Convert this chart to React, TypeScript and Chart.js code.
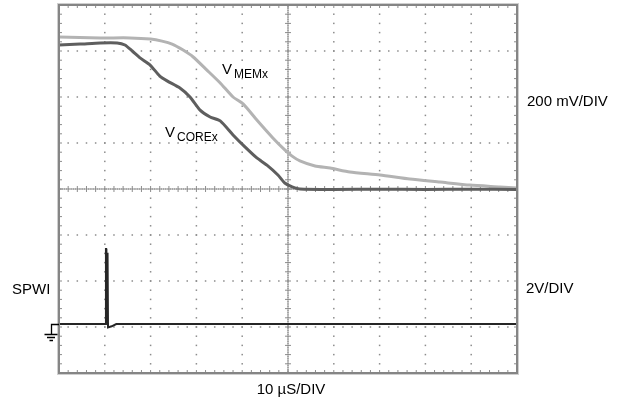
import React, { useEffect, useRef } from "react";
import { Chart, registerables } from "chart.js";

Chart.register(...registerables);

// Time axis: 10 µs/div, 10 divisions
const TIME_MIN = 0;
const TIME_MAX = 100;

// VCOREx (mV relative to centre line, 200 mV/div)
const coreTime = [0, 4.6, 9, 12.7, 14.4, 16, 17.7, 19.9, 22, 23.6, 26.4, 28.6, 30.8, 33, 35.2, 38, 40.6, 43.2, 45.4, 47.8, 49.3, 50.9, 52.6, 60, 70, 80, 90, 100];
const coreMv = [626, 630, 635, 635, 626, 600, 570, 539, 491, 470, 439, 400, 343, 313, 296, 235, 183, 135, 104, 61, 26, 9, 0, -2, -1, -2, -1, -2];

// VMEMx (mV relative to centre line, 200 mV/div)
const memTime = [0, 9, 15.5, 20, 22.5, 24.7, 27.1, 29.3, 32.3, 35.2, 38, 40.2, 43.2, 46.7, 49.3, 50.9, 52.6, 55.9, 59.2, 63.5, 70.1, 76.6, 83.2, 89.7, 96.3, 100];
const memMv = [661, 657, 657, 652, 643, 630, 604, 574, 517, 461, 400, 370, 300, 222, 170, 143, 122, 100, 91, 74, 61, 43, 30, 17, 9, 4];

// SPWI (V, 2 V/div)
const spwiTime = [0, 10.2, 10.25, 10.3, 10.35, 10.6, 10.65, 10.7, 11.5, 12.5, 100];
const spwiV = [0, 0, 3.26, 3.26, 0.1, 3.1, 3.1, -0.15, -0.1, 0, 0];

const MV_MIN = -800;
const MV_MAX = 800;
const V_MIN = -2.13;
const V_MAX = 13.87;

const FONT = '"Liberation Sans", Arial, sans-serif';

const graticule = {
  id: "graticule",
  beforeDatasetsDraw(chart: any) {
    const { ctx, chartArea } = chart;
    const { left, top, right, bottom } = chartArea;
    const w = right - left;
    const h = bottom - top;
    const dx = w / 10;
    const dy = h / 8;
    ctx.save();
    ctx.fillStyle = "#8c8c8c";
    const dot = (x: number, y: number) => ctx.fillRect(x - 0.75, y - 0.75, 1.5, 1.5);
    for (let k = 1; k < 10; k++) {
      if (k === 5) continue;
      const x = left + k * dx;
      for (let j = 1; j < 40; j++) dot(x, top + (j * dy) / 5);
    }
    for (let k = 1; k < 8; k++) {
      if (k === 4) continue;
      const y = top + k * dy;
      for (let j = 1; j < 50; j++) dot(left + (j * dx) / 5, y);
    }
    const cx = left + 5 * dx;
    const cy = top + 4 * dy;
    for (let j = 1; j < 200; j++) dot(cx, top + (j * dy) / 25);
    for (let j = 1; j < 250; j++) dot(left + (j * dx) / 25, cy);
    ctx.strokeStyle = "#8c8c8c";
    ctx.lineWidth = 1;
    ctx.beginPath();
    for (let j = 1; j < 40; j++) {
      const y = top + (j * dy) / 5;
      ctx.moveTo(cx - 3, y);
      ctx.lineTo(cx + 3, y);
      ctx.moveTo(left, y);
      ctx.lineTo(left + 3, y);
      ctx.moveTo(right, y);
      ctx.lineTo(right - 3, y);
    }
    for (let j = 1; j < 50; j++) {
      const x = left + (j * dx) / 5;
      ctx.moveTo(x, cy - 3);
      ctx.lineTo(x, cy + 3);
      ctx.moveTo(x, top);
      ctx.lineTo(x, top + 3);
      ctx.moveTo(x, bottom);
      ctx.lineTo(x, bottom - 3);
    }
    ctx.stroke();
    ctx.restore();
  },
  afterDraw(chart: any) {
    const { ctx, chartArea } = chart;
    const { left, top, right, bottom } = chartArea;
    ctx.save();
    ctx.strokeStyle = "#858585";
    ctx.lineWidth = 2;
    ctx.strokeRect(left, top, right - left, bottom - top);
    ctx.strokeStyle = "#cfcfcf";
    ctx.lineWidth = 1;
    ctx.strokeRect(left - 1.5, top - 1.5, right - left + 3, bottom - top + 3);

    // ground marker at SPWI 0 V
    const gy = Math.round(chart.scales.y2.getPixelForValue(0)) + 0.5;
    ctx.strokeStyle = "#000";
    ctx.lineWidth = 1.3;
    ctx.beginPath();
    ctx.moveTo(left, gy);
    ctx.lineTo(51.5, gy);
    ctx.lineTo(51.5, gy + 10);
    ctx.moveTo(44.5, gy + 10);
    ctx.lineTo(57.5, gy + 10);
    ctx.moveTo(47, gy + 13);
    ctx.lineTo(55, gy + 13);
    ctx.moveTo(49.5, gy + 16);
    ctx.lineTo(53, gy + 16);
    ctx.stroke();

    ctx.fillStyle = "#000";
    ctx.textBaseline = "alphabetic";
    ctx.font = `15px ${FONT}`;
    ctx.textAlign = "left";
    ctx.fillText("200 mV/DIV", 527, 106);
    ctx.fillText("2V/DIV", 526, 293);
    ctx.fillText("SPWI", 12, 294);
    ctx.textAlign = "center";
    ctx.fillText("10 \u00B5S/DIV", 291, 394);
    ctx.textAlign = "left";
    ctx.font = `15px ${FONT}`;
    ctx.fillText("V", 222, 74);
    ctx.font = `12px ${FONT}`;
    ctx.fillText("MEMx", 234, 78);
    ctx.font = `15px ${FONT}`;
    ctx.fillText("V", 165, 137);
    ctx.font = `12px ${FONT}`;
    ctx.fillText("COREx", 177, 141);
    ctx.restore();
  },
};

function pts(xs: number[], ys: number[]) {
  return xs.map((x, i) => ({ x, y: ys[i] }));
}

export default function App() {
  const ref = useRef<HTMLCanvasElement | null>(null);
  useEffect(() => {
    document.body.style.margin = "0";
    const canvas = ref.current;
    if (!canvas) return;
    const chart = new Chart(canvas, {
      type: "line",
      data: {
        datasets: [
          {
            label: "VCOREx",
            data: pts(coreTime, coreMv),
            borderColor: "#5e5e5e",
            borderWidth: 3,
            pointRadius: 0,
            tension: 0.2,
            yAxisID: "y",
          },
          {
            label: "VMEMx",
            data: pts(memTime, memMv),
            borderColor: "#b3b3b3",
            borderWidth: 3,
            pointRadius: 0,
            tension: 0.2,
            yAxisID: "y",
          },
          {
            label: "SPWI",
            data: pts(spwiTime, spwiV),
            borderColor: "#262626",
            borderWidth: 2,
            pointRadius: 0,
            yAxisID: "y2",
          },
        ],
      },
      options: {
        animation: false,
        responsive: false,
        maintainAspectRatio: false,
        layout: { padding: { left: 59, top: 5, right: 109, bottom: 29 } },
        plugins: { legend: { display: false }, tooltip: { enabled: false } },
        scales: {
          x: { type: "linear", min: TIME_MIN, max: TIME_MAX, display: false },
          y: { type: "linear", min: MV_MIN, max: MV_MAX, display: false },
          y2: { type: "linear", min: V_MIN, max: V_MAX, display: false },
        },
      },
      plugins: [graticule],
    });
    return () => chart.destroy();
  }, []);
  return <canvas ref={ref} width={626} height={402} style={{ display: "block", width: 626, height: 402 }} />;
}
